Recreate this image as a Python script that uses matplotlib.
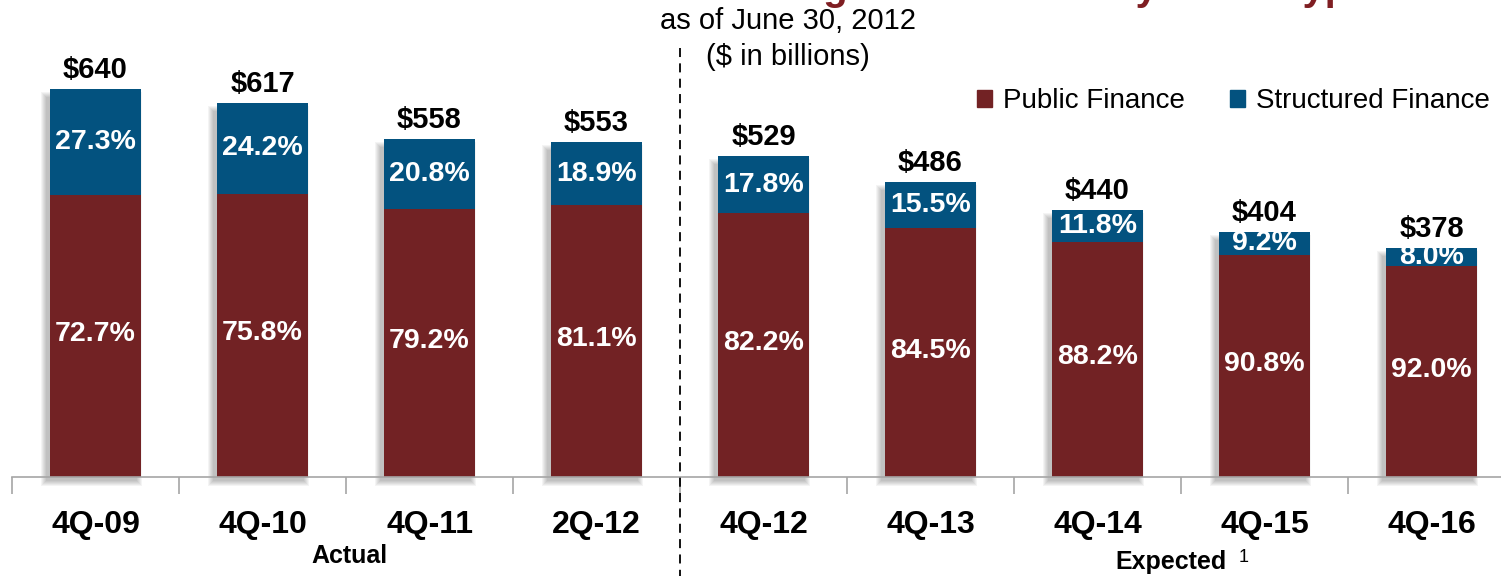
import matplotlib
matplotlib.use("Agg")
import matplotlib.pyplot as plt
from matplotlib.patches import Patch, Rectangle

plt.rcParams['font.family'] = ['Liberation Sans', 'DejaVu Sans']

quarters = ['4Q-09', '4Q-10', '4Q-11', '2Q-12', '4Q-12', '4Q-13', '4Q-14', '4Q-15', '4Q-16']
totals = [640, 617, 558, 553, 529, 486, 440, 404, 378]
public_pct = [72.7, 75.8, 79.2, 81.1, 82.2, 84.5, 88.2, 90.8, 92.0]
structured_pct = [27.3, 24.2, 20.8, 18.9, 17.8, 15.5, 11.8, 9.2, 8.0]

RED = '#722224'
BLUE = '#03527f'
TITLE_RED = '#7f1e22'

W, H = 1501, 576
fig = plt.figure(figsize=(W / 100, H / 100), dpi=100)

# axes runs from x=12px to 1515px (a little past the right edge), baseline at y=477px
ax = fig.add_axes([12 / W, 99 / H, 1503 / W, 424.2 / H])
ax.set_xlim(-0.5, len(quarters) - 0.5)
ax.set_ylim(0, 700)

px_x = 1 / 167.0    # data units per pixel, x
px_y = 1 / 0.606    # data units per pixel, y
bar_w = 0.55

xs = list(range(len(quarters)))
public_vals = [t * p / 100 for t, p in zip(totals, public_pct)]
struct_vals = [t - p for t, p in zip(totals, public_vals)]

# soft drop shadow, offset down and to the left
for x, t in zip(xs, totals):
    for s in range(0, 6):
        ax.add_patch(Rectangle((x - bar_w / 2 - (4 + s) * px_x, -(4 + s) * px_y),
                               bar_w + 2 * s * px_x, t + 2 * s * px_y - 4 * px_y,
                               color='black', alpha=0.045, lw=0, zorder=0.5, clip_on=False))

ax.bar(xs, public_vals, width=bar_w, color=RED, zorder=2, label='Public Finance')
ax.bar(xs, struct_vals, width=bar_w, bottom=public_vals, color=BLUE, zorder=2,
       label='Structured Finance')

for x, t, pv, sv, pp, sp in zip(xs, totals, public_vals, struct_vals, public_pct, structured_pct):
    ax.text(x, t + 5 * px_y, f'${t}', ha='center', va='bottom', fontsize=21,
            fontweight='bold', color='black', zorder=3)
    ax.text(x, pv + sv / 2, f'{sp:.1f}%', ha='center', va='center', fontsize=20.5,
            fontweight='bold', color='white', zorder=3)
    ax.text(x, pv / 2 + 2 * px_y, f'{pp:.1f}%', ha='center', va='center', fontsize=20.5,
            fontweight='bold', color='white', zorder=3)

for side in ['top', 'right', 'left']:
    ax.spines[side].set_visible(False)
ax.spines['bottom'].set_color('#a6a6a6')
ax.spines['bottom'].set_linewidth(1.2)
ax.spines['bottom'].set_zorder(2.5)
ax.set_yticks([])

# boundary ticks between categories, labels at the centres
ax.set_xticks([i - 0.5 for i in range(len(quarters) + 1)])
ax.set_xticklabels([])
ax.tick_params(axis='x', which='major', length=12, width=1.2, color='#a6a6a6', direction='out')
ax.set_xticks(xs, minor=True)
ax.set_xticklabels(quarters, minor=True, fontsize=23, fontweight='bold')
ax.tick_params(axis='x', which='minor', length=0, pad=24)

# dashed divider between actual and expected
ax.plot([3.5, 3.5], [708, -163], color='black', lw=1.3, ls=(0, (5, 3.5)),
        clip_on=False, zorder=3)

fig.text(1371 / W, 1.0, 'Net Par Outstanding Amortization by Bond Type', ha='right',
         va='baseline', fontsize=28.6, fontweight='bold', color=TITLE_RED)
fig.text(788 / W, 1 - 21 / H, 'as of June 30, 2012', ha='center', va='center', fontsize=21)
fig.text(788 / W, 1 - 57 / H, '($ in billions)', ha='center', va='center', fontsize=21)

fig.text(349 / W, 1 - 556 / H, 'Actual', ha='center', va='center', fontsize=18, fontweight='bold')
fig.text(1171 / W, 1 - 562 / H, 'Expected', ha='center', va='center', fontsize=18,
         fontweight='bold')
fig.text(1239 / W, 1 - 557 / H, '1', ha='left', va='center', fontsize=13)

handles = [Patch(color=RED, label='Public Finance'), Patch(color=BLUE, label='Structured Finance')]
fig.legend(handles=handles, loc='center right', bbox_to_anchor=(1490 / W, 1 - 101 / H),
           ncol=2, frameon=False, fontsize=20, handlelength=0.55, handleheight=0.55,
           handletextpad=0.4, columnspacing=1.6, borderpad=0, borderaxespad=0)

fig.savefig('out.png', dpi=100)
